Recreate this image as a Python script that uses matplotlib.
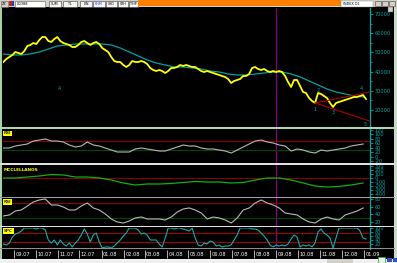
import numpy as np
import pandas as pd
import matplotlib
matplotlib.use("Agg")
import matplotlib.pyplot as plt
import matplotlib.transforms as mtransforms
from matplotlib.patches import Rectangle

# ------------------------------------------------------------------ data
price_start, price_end = "2007-08-17", "2009-01-04"
price = [45000, 46560, 47610, 48650, 50210, 49690, 49170, 50730, 53330, 53860,
         54900, 54380, 56460, 58020, 58020, 55940, 55420, 56980, 58020, 55940,
         54900, 54380, 53860, 52810, 52810, 53860, 55420, 55940, 54900, 53860,
         54900, 55420, 54380, 52290, 51250, 50210, 47610, 45520, 45000, 45000,
         43440, 42400, 43440, 45520, 45000, 45000, 45520, 45000, 43960, 41880,
         40840, 40310, 40840, 40310, 39270, 40310, 41880, 41880, 42400, 43440,
         42920, 43440, 42920, 42400, 42400, 41360, 40310, 39790, 40310, 39790,
         39270, 38750, 38230, 37710, 37190, 36150, 34070, 35110, 35630, 36150,
         37710, 37710, 38750, 41880, 42400, 41360, 40840, 41360, 40310, 39790,
         40310, 39790, 40310, 39790, 37710, 34590, 31980, 35630, 35630, 32500,
         29380, 28860, 26250, 24690, 23650, 28860, 28340, 27300, 26250, 23650,
         21570, 23650, 24170, 24690, 25210, 25730, 26250, 26770, 26770, 27300,
         27820, 25730]

ma_start, ma_end = "2007-08-17", "2008-12-31"
ma = [49170, 48650, 48650, 49170, 50210, 51770, 53330, 53860, 54380, 54380,
      54380, 54380, 53860, 52290, 50210, 48130, 46040, 44480, 43440, 42400,
      42400, 41880, 41360, 40310, 39790, 38750, 38230, 38230, 38750, 39270,
      39790, 39790, 38750, 37190, 35110, 33020, 30940, 29380, 28340, 27300,
      26770]

osc_start, osc_end = "2007-08-17", "2008-12-31"
rsi1 = [38.9, 38.9, 47.8, 52.2, 56.7, 70.0, 74.4, 78.9, 70.0, 70.0,
        65.6, 52.2, 43.4, 47.8, 65.6, 52.2, 47.8, 38.9, 30.0, 21.2,
        21.2, 21.2, 34.5, 38.9, 34.5, 30.0, 25.6, 25.6, 34.5, 43.4,
        52.2, 47.8, 47.8, 38.9, 34.5, 34.5, 30.0, 25.6, 16.7, 30.0,
        43.4, 56.7, 70.0, 74.4, 65.6, 61.1, 52.2, 47.8, 25.6, 34.5,
        30.0, 21.2, 16.7, 30.0, 25.6, 30.0, 34.5, 38.9, 47.8, 52.2,
        56.7]

mcc = [0, 0, 25, 50, 87, 75, 25, 25, 0, -50,
       -125, -175, -150, -150, -137, -112, -87, -100, -100, -125,
       -112, -50, 0, 0, -50, -125, -200, -225, -212, -175,
       -125]

rsi2 = [35.3, 38.0, 48.6, 51.3, 62.0, 72.7, 78.0, 80.7, 64.7, 64.7,
        59.3, 51.3, 51.3, 62.0, 70.0, 56.7, 51.3, 40.6, 27.3, 19.3,
        16.6, 22.0, 30.0, 32.6, 27.3, 27.3, 27.3, 24.6, 32.6, 46.0,
        54.0, 56.7, 51.3, 43.3, 27.3, 32.6, 30.0, 24.6, 16.6, 30.0,
        51.3, 56.7, 70.0, 78.0, 70.0, 64.7, 56.7, 43.3, 40.6, 38.0,
        27.3, 19.3, 16.6, 27.3, 32.6, 27.3, 24.6, 38.0, 43.3, 48.6,
        56.7]

stoch_start, stoch_end = "2007-08-17", "2009-01-04"
stoch = [20, 15, 25, 55, 70, 75, 85, 100, 100, 100,
         100, 95, 100, 100, 90, 40, 25, 40, 15, 40,
         20, 10, 25, 5, 25, 40, 65, 95, 70, 30,
         65, 75, 30, 0, 5, 5, 0, 10, 25, 40,
         60, 75, 100, 100, 100, 90, 70, 75, 65, 40,
         40, 40, 20, 5, 50, 100, 100, 95, 100, 100,
         95, 90, 85, 100, 50, 15, 10, 25, 20, 35,
         30, 10, 15, 5, 10, 10, 15, 40, 65, 100,
         100, 100, 100, 95, 95, 90, 75, 60, 40, 15,
         5, 15, 10, 15, 10, 20, 45, 65, 55, 5,
         15, 10, 15, 5, 25, 80, 95, 75, 65, 50,
         0, 50, 100, 100, 100, 100, 100, 100, 100, 85,
         50, 45]

# trend lines and wave labels
trend_start = ("2008-10-25", 23650)
trend_up_end = ("2009-01-09", 29380)
trend_dn_end = ("2009-01-09", 14280)
wave_text = ["1", "2", "3", "4", "5"]
wave_date = ["2008-10-25", "2008-10-29", "2008-11-19", "2008-12-28", "2009-01-03"]
wave_value = [20300, 30100, 18960, 31460, 12700]
marker_date, marker_value = "2007-11-04", 31460

event_date = "2008-09-01"

main_ticks = [20000, 30000, 40000, 50000, 60000, 70000]
rsi1_ticks = [-20, 0, 20, 40, 60, 80, 100, 120]
mcc_ticks = [-400, -300, -200, -100, 0, 100, 200, 300]
rsi2_ticks = [20, 40, 60, 80]
stoch_ticks = [20, 40, 60, 80, 100]

month_start, month_end = "2007-09-01", "2009-01-01"

toolbar_buttons = ["SUM", "TL", "LIN", "KHM", "SYD", "STH", "THP"]

# ------------------------------------------------------------------ style
W, H = 397, 263
TEAL = "#00a8a8"
MA_C = "#00a0a0"
YEL = "#ffff00"
DRED = "#8a0000"
DGRN = "#004a00"
PURP = "#800080"
GRAY_UI = "#d4d0c8"

fig = plt.figure(figsize=(W / 100, H / 100), dpi=100)
fig.patch.set_facecolor("black")


def rect_px(x0, y0, x1, y1, fc, ec="none", lw=0.0, z=0):
    r = Rectangle((x0 / W, 1 - y1 / H), (x1 - x0) / W, (y1 - y0) / H,
                  transform=fig.transFigure, facecolor=fc, edgecolor=ec,
                  linewidth=lw, zorder=z)
    fig.add_artist(r)


def text_px(x, y, s, **kw):
    fig.text(x / W, 1 - y / H, s, **kw)


XL = (pd.Timestamp("2007-08-16 12:00"), pd.Timestamp("2009-01-09 14:00"))
X0, X1 = 3, 370


def panel(y0, y1, ylim, ticks, minor=None):
    ax = fig.add_axes([X0 / W, 1 - y1 / H, (X1 - X0) / W, (y1 - y0) / H])
    ax.set_facecolor("black")
    ax.set_xlim(XL)
    ax.set_ylim(ylim)
    for s in ["left", "top", "bottom"]:
        ax.spines[s].set_visible(False)
    ax.spines["right"].set_color(TEAL)
    ax.spines["right"].set_linewidth(0.9)
    ax.yaxis.tick_right()
    ax.set_yticks(ticks)
    ax.set_yticklabels([str(t) for t in ticks])
    if minor is not None:
        ax.set_yticks(minor, minor=True)
    ax.tick_params(axis="y", which="major", colors=TEAL, labelsize=3.6,
                   length=2.5, width=0.6, pad=0.6)
    ax.tick_params(axis="y", which="minor", colors=TEAL, length=1.5, width=0.5)
    ax.tick_params(axis="x", which="both", bottom=False, labelbottom=False)
    ax.axvline(pd.Timestamp(event_date), color=PURP, lw=0.9, zorder=1)
    return ax


# ------------------------------------------------------------------ main panel
ax = panel(7.5, 127.5, (10889, 73385), main_ticks,
           minor=[25000, 35000, 45000, 55000, 65000])
pdates = pd.date_range(price_start, price_end, periods=len(price))
mdates_ = pd.date_range(ma_start, ma_end, periods=len(ma))
ax.plot(mdates_, ma, color=MA_C, lw=0.9, zorder=3)
ax.plot(pdates, price, color=YEL, lw=1.3, zorder=4)
for end in (trend_up_end, trend_dn_end):
    ax.plot([pd.Timestamp(trend_start[0]), pd.Timestamp(end[0])],
            [trend_start[1], end[1]], color="#b00000", lw=0.8, zorder=5)
for t, d, v in zip(wave_text, wave_date, wave_value):
    ax.text(pd.Timestamp(d), v, t, color=TEAL, fontsize=3.5,
            ha="center", va="center", zorder=6)
ax.text(pd.Timestamp(marker_date), marker_value, "A", color=TEAL,
        fontsize=3.5, ha="center", va="center")

# ------------------------------------------------------------------ RSI 1
odates = pd.date_range(osc_start, osc_end, periods=len(rsi1))
ax1 = panel(129, 163.5, (-29.9, 123.3), rsi1_ticks)
ax1.axhline(70, color=DRED, lw=0.8)
ax1.axhline(30, color=DGRN, lw=0.8)
ax1.plot(odates, rsi1, color="#b8b8b8", lw=0.8)
ax1.text(0.003, 0.93, "RSI", transform=ax1.transAxes, fontsize=3,
         color="#303000", va="top", ha="left", fontweight="bold",
         bbox=dict(boxstyle="square,pad=0.15", fc=YEL, ec="none"))

# ------------------------------------------------------------------ McClellan
cdates = pd.date_range(osc_start, osc_end, periods=len(mcc))
ax2 = panel(165, 196.5, (-462.5, 325), mcc_ticks)
ax2.axhline(0, color=DRED, lw=0.8)
ax2.plot(cdates, mcc, color="#10b010", lw=0.9)
ax2.text(0.003, 0.92, "MCCLELLANOS", transform=ax2.transAxes, fontsize=3.1,
         color=YEL, va="top", ha="left", fontweight="bold")

# ------------------------------------------------------------------ RSI 2
rdates = pd.date_range(osc_start, osc_end, periods=len(rsi2))
ax3 = panel(198, 226, (8.6, 83.3), rsi2_ticks)
ax3.axhline(70, color=DRED, lw=0.8)
ax3.axhline(30, color=DGRN, lw=0.8)
ax3.plot(rdates, rsi2, color="#b8b8b8", lw=0.8)
ax3.text(0.003, 0.93, "RSI", transform=ax3.transAxes, fontsize=3,
         color="#303000", va="top", ha="left", fontweight="bold",
         bbox=dict(boxstyle="square,pad=0.15", fc=YEL, ec="none"))

# ------------------------------------------------------------------ Stochastic
sdates = pd.date_range(stoch_start, stoch_end, periods=len(stoch))
ax4 = panel(227.5, 248.5, (-2.5, 102.5), stoch_ticks)
ax4.axhline(75, color="#a00000", lw=0.8)
ax4.axhline(30, color="#a00000", lw=0.8)
ax4.plot(sdates, stoch, color="#10b0b0", lw=0.8)
ax4.text(0.003, 0.93, "SPC", transform=ax4.transAxes, fontsize=3,
         color="#303000", va="top", ha="left", fontweight="bold",
         bbox=dict(boxstyle="square,pad=0.15", fc=YEL, ec="none"))

# ------------------------------------------------------------------ date strip
axd = fig.add_axes([X0 / W, 1 - 258.5 / H, (X1 - X0) / W, (258.5 - 249.5) / H])
axd.set_facecolor("black")
axd.set_xlim(XL)
axd.set_ylim(0, 1)
axd.axis("off")
months = pd.date_range(month_start, month_end, freq="MS")
axd.vlines(months, 0.05, 0.95, color="#d0d0d0", lw=0.6)
for m in months:
    axd.annotate(m.strftime("%m.%y"), (m, 0.45), xytext=(1.5, 0),
                 textcoords="offset pixels", color="white", fontsize=3.6,
                 ha="left", va="center", annotation_clip=False)

# ------------------------------------------------------------------ frame / separators
rect_px(0, 7, 2.2, 258.5, "#a8d0a8", z=5)            # left border
rect_px(393.5, 7, 397, 258.5, "#c8dcc8", z=5)        # right border
rect_px(0, 127.3, 395, 128.8, "#b0d8b0", z=5)        # under main panel
rect_px(0, 163.5, 395, 164.6, "#e0e0e0", z=5)
rect_px(0, 196.6, 395, 197.7, "#a0a0a0", z=5)
rect_px(0, 226.2, 395, 227.3, "#e0e0e0", z=5)
rect_px(0, 248.4, 395, 249.4, "#909090", z=5)
rect_px(0, 258.5, 397, 263, "#f0f0f0", z=5)          # bottom status strip
rect_px(327, 258.8, 353, 262.5, GRAY_UI, z=6)
rect_px(378, 256.5, 385, 262.5, "#e8f0e8", ec="#40a040", lw=0.6, z=7)
rect_px(387, 258, 391.5, 261.5, "#3050c0", z=7)
rect_px(392.5, 258, 396.5, 261.5, "#3050c0", z=7)

# ------------------------------------------------------------------ toolbar
rect_px(0, 0, 397, 7, GRAY_UI, z=5)
rect_px(0.5, 0.5, 8, 6.5, GRAY_UI, ec="#606060", lw=0.4, z=6)
text_px(4.2, 3.6, "ZZ", fontsize=2.4, ha="center", va="center", color="black", zorder=7)
rect_px(9, 1, 11.5, 6, "#d02020", z=6)
rect_px(11.5, 1, 14, 6, "#2040c0", z=6)
rect_px(15, 0.5, 45, 6.5, "white", ec="#606060", lw=0.4, z=6)
text_px(17, 3.6, "00388", fontsize=2.6, ha="left", va="center", color="black", zorder=7)
btn_x = [(49, 61), (63, 77), (80, 92), (93, 105), (106, 117), (117.5, 128), (128.5, 137.5)]
for (bx0, bx1), lab in zip(btn_x, toolbar_buttons):
    rect_px(bx0, 0.5, bx1, 6.5, "#f4f4f4", ec="#404040", lw=0.4, z=6)
    text_px((bx0 + bx1) / 2, 3.6, lab, fontsize=2.4, ha="center", va="center",
            color="#2040ff" if lab == "KHM" else "black", zorder=7)
rect_px(138, 0.3, 341, 6.3, "#ff8000", z=6)
rect_px(341, 0.5, 373, 6.5, "white", ec="#808080", lw=0.3, z=6)
text_px(343, 3.6, "INDEX D1", fontsize=2.4, ha="left", va="center", color="black", zorder=7)
for bx in (375, 382, 389):
    rect_px(bx, 0.8, bx + 6, 6.2, GRAY_UI, ec="#404040", lw=0.4, z=6)
rect_px(388, 7.5, 393, 11.5, GRAY_UI, ec="#606060", lw=0.3, z=6)

fig.savefig("out.png", dpi=100, facecolor=fig.get_facecolor())
